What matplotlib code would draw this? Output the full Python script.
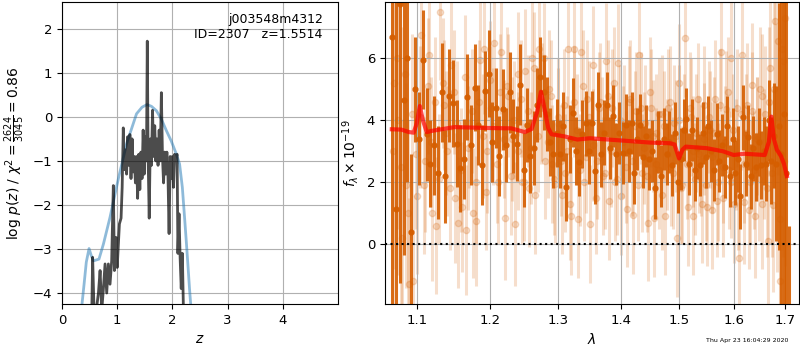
import numpy as np
import matplotlib
matplotlib.use('Agg')
import matplotlib.pyplot as plt
from matplotlib.ticker import FixedLocator, FixedFormatter, NullLocator

# --- redshift probability (left) ---
z_tmpl = [0.35, 0.40, 0.44, 0.49, 0.53, 0.57, 0.62, 0.67, 0.75, 0.87, 1.02, 1.17,
          1.35, 1.45, 1.54, 1.62, 1.71, 1.80, 1.89, 1.98, 2.07, 2.13, 2.18, 2.22,
          2.25, 2.28, 2.31, 2.34]
lnp_tmpl = [-4.4, -3.8, -3.3, -2.99, -3.15, -3.27, -3.25, -3.23, -2.89, -2.28, -1.41, -0.61,
            0.07, 0.22, 0.28, 0.24, 0.14, -0.05, -0.31, -0.55, -0.84, -1.07, -1.6, -2.28,
            -2.8, -3.34, -3.9, -4.4]

z_grid = [0.54, 0.555, 0.58, 0.62, 0.66, 0.69, 0.72, 0.75, 0.78, 0.81, 0.84, 0.87,
          0.90, 0.93, 0.95, 0.98, 1.00, 1.04, 1.07, 1.09, 1.11, 1.13, 1.15, 1.17,
          1.19, 1.21, 1.23, 1.25, 1.27, 1.29, 1.31, 1.33, 1.35, 1.37, 1.39, 1.41,
          1.43, 1.45, 1.47, 1.49, 1.51, 1.53, 1.545, 1.56, 1.58, 1.60, 1.62, 1.64,
          1.66, 1.68, 1.70, 1.72, 1.74, 1.76, 1.78, 1.80, 1.82, 1.84, 1.86, 1.88,
          1.90, 1.92, 1.94, 1.96, 1.98, 2.00, 2.02, 2.04, 2.06, 2.085, 2.10, 2.12,
          2.14, 2.16, 2.18, 2.20]
lnp_grid = [-4.4, -3.19, -4.4, -4.4, -4.0, -3.49, -4.4, -3.9, -3.34, -4.0, -3.34, -3.8,
            -3.27, -1.56, -3.49, -2.74, -3.42, -2.43, -2.3, -1.6, -0.25, -1.2, -0.75, -1.3,
            -0.45, -1.1, -0.4, -1.4, -0.5, -1.25, -0.9, -1.5, -0.9, -1.85, -0.85, -1.65,
            -0.8, -1.4, -0.3, -1.3, -0.45, -1.0, 1.72, -0.9, -2.3, -0.5, -1.1, 0.15,
            -0.9, -0.2, -1.0, -0.5, -1.1, -0.3, -1.0, 0.55, -0.9, -1.5, -0.8, -1.3,
            -0.8, -1.35, -2.65, -0.9, -1.4, -0.9, -1.6, -0.85, -0.95, -0.85, -3.1, -2.2,
            -3.2, -3.9, -3.1, -4.4]

# --- 1D spectrum (right) ---
# beam A (dark)
wave_a0, wave_a_step = 1.068, 0.005
flux_a = [6.7, 1.15, 7.75, 4.65, 6.0, 0.4, 5.0, 3.4, 5.95, 3.55, 2.6, 3.2,
          2.3, 4.9, 2.2, 4.8, 4.55, 3.25, 2.45, 2.75, 4.75, 3.2, 5.05, 3.85,
          2.55, 4.95, 5.5, 3.3, 4.4, 2.85, 4.35, 3.2, 4.9, 3.5, 3.25, 5.15,
          2.4, 3.85, 2.85, 3.1, 4.5, 5.4, 4.9, 4.2, 3.3, 2.9, 3.6, 2.9,
          3.8, 1.85, 3.4, 4.25, 3.0, 2.65, 3.55, 3.9, 3.0, 3.9, 2.35, 4.5,
          2.9, 3.6, 4.5, 3.1, 4.15, 2.9, 3.6, 2.95, 3.85, 3.0, 3.9, 2.3,
          3.4, 3.85, 2.8, 3.5, 2.75, 3.0, 1.8, 3.3, 2.2, 3.4, 2.9, 3.3,
          2.55, 3.6, 2.0, 2.75, 3.7, 4.05, 2.6, 3.7, 2.4, 3.1, 2.55, 3.6,
          2.8, 3.8, 3.0, 2.4, 3.55, 2.7, 3.2, 2.5, 3.8, 2.2, 3.4, 2.3,
          2.75, 1.55, 4.1, 2.6, 3.45, 2.2, 3.1, 2.5, 3.3, 2.55, 3.0, 2.6,
          4.0, 2.7, 3.5, 2.6, 3.8, 2.9, 4.2, 2.3, -3.0]
err_a = [9, 9, 9, 5, 4, 2.5, 1.7, 1.5, 1.6, 1.5, 1.4, 1.6,
         1.5, 1.6, 1.5, 1.5, 1.4, 1.4, 1.4, 1.3, 1.4, 1.3, 1.4, 1.3,
         1.3, 1.3, 1.4, 1.3, 1.3, 1.3, 1.3, 1.2, 1.3, 1.2, 1.2, 1.3,
         1.2, 1.2, 1.2, 1.2, 1.2, 1.3, 1.2, 1.2, 1.1, 1.1, 1.1, 1.1,
         1.1, 1.1, 1.1, 1.1, 1.1, 1.1, 1.1, 1.05, 1.05, 1.05, 1.05, 1.05,
         1.05, 1.05, 1.05, 1.0, 1.0, 1.0, 1.0, 1.0, 1.0, 1.0, 1.0, 1.0,
         1.0, 1.0, 1.0, 1.0, 1.0, 1.0, 1.0, 1.0, 1.0, 1.0, 1.0, 1.0,
         1.0, 1.0, 1.0, 1.0, 1.0, 1.0, 1.0, 1.0, 1.0, 1.0, 1.0, 1.0,
         1.0, 1.0, 1.0, 1.0, 1.0, 1.0, 1.0, 1.0, 1.0, 1.0, 1.0, 1.05,
         1.05, 1.05, 1.05, 1.05, 1.05, 1.05, 1.05, 1.1, 1.1, 1.1, 1.1, 1.2,
         1.3, 1.4, 1.7, 2.5, 4, 6, 8, 9, 3.6]

# beam B (light)
wave_b0, wave_b_step = 1.0705, 0.005
flux_b = [5.2, 4.0, 0.2, 1.9, -1.3, -1.2, 1.55, 6.75, 2.7, 6.1, 1.0, 0.6,
          7.5, 4.5, 3.0, 5.8, 1.5, 0.7, 1.2, 0.45, 3.9, 1.0, 0.75, 5.95,
          6.3, 3.0, 4.4, 6.5, 2.0, 6.2, 0.85, 4.8, 3.4, 0.65, 5.5, 2.0,
          5.6, 1.8, 6.0, 1.6, 6.3, 4.6, 2.7, 5.0, 2.6, 1.95, 4.1, 1.6,
          2.3, 6.3, 0.9, 6.3, 0.8, 6.2, 2.0, 4.7, 0.65, 5.8, 2.7, 4.6,
          2.2, 5.9, 1.4, 4.4, 2.0, 5.85, 1.55, 3.9, 1.15, 4.7, 0.95, 4.3,
          6.1, 2.3, 3.9, 0.7, 4.4, 0.85, 3.6, 2.4, 4.2, 0.9, 4.4, 2.5,
          3.9, 0.2, 5.2, 1.9, 6.65, 1.2, 4.1, 0.9, 3.6, 2.9, 1.3, 4.5,
          1.2, 3.7, 1.1, 4.7, 2.0, 6.2, 1.5, 4.35, 2.4, 6.0, 1.3, 4.4,
          -0.45, 6.1, 1.35, 4.5, 2.0, 5.15, 0.9, 3.4, 5.0, 1.3, 4.2, 0.1,
          5.7, 1.25, 7.2, 6.55, -1.2, 5.9, 7.3]
err_b = [6, 5, 3.8, 3.3, 2.8, 2.8, 2.5, 2.3, 2.3, 2.2, 2.2, 2.2,
         2.2, 2.1, 2.1, 2.1, 2.1, 2.1, 2.1, 2.1, 2.1, 2.1, 2.1, 2.1,
         2.1, 2.0, 2.0, 2.0, 2.0, 2.0, 2.0, 2.0, 2.0, 2.0, 2.0, 2.0,
         2.0, 1.9, 1.9, 1.9, 1.9, 1.9, 1.9, 1.9, 1.9, 1.9, 1.9, 1.9,
         1.9, 1.9, 1.9, 1.9, 1.9, 1.9, 1.9, 1.9, 1.9, 1.9, 1.9, 1.9,
         1.9, 1.9, 1.9, 1.9, 1.9, 1.9, 1.9, 1.9, 1.9, 1.9, 1.9, 1.9,
         1.9, 1.9, 1.9, 1.9, 1.9, 1.9, 1.9, 1.9, 1.9, 1.9, 1.9, 1.9,
         1.9, 1.9, 1.9, 1.9, 1.9, 1.9, 1.9, 1.9, 1.9, 1.9, 1.9, 1.9,
         1.9, 1.9, 1.9, 1.9, 1.9, 1.9, 1.9, 1.9, 1.9, 1.9, 1.9, 1.9,
         1.9, 1.9, 2.0, 2.0, 2.0, 2.0, 2.0, 2.0, 2.0, 2.1, 2.2, 2.3,
         2.5, 2.8, 3.3, 4.3, 5.3, 6.3, 8]

# beam C (light)
wave_c0, wave_c_step = 1.0692, 0.005
flux_c = [3.0, 6.0, 2.5, 5.5, 1.0, 4.2, 2.9, 4.1, 1.9, 5.1, 3.3, 4.6,
          2.1, 5.2, 3.6, 1.8, 4.9, 3.9, 2.4, 5.4, 3.1, 4.3, 2.0, 4.6,
          3.5, 1.7, 5.3, 3.8, 2.6, 4.9, 3.4, 5.1, 2.2, 4.0, 3.0, 4.7,
          2.0, 4.3, 3.1, 5.7, 3.5, 4.4, 6.0, 3.3, 4.8, 2.1, 3.9, 2.7,
          4.5, 3.0, 1.3, 4.6, 3.7, 2.4, 5.1, 2.8, 4.1, 3.2, 1.5, 4.4,
          3.6, 2.3, 4.8, 3.0, 5.2, 2.1, 4.0, 3.3, 2.5, 4.6, 2.7, 3.8,
          1.9, 4.4, 3.1, 2.2, 4.9, 3.5, 2.6, 4.2, 1.6, 3.8, 2.9, 4.6,
          2.3, 3.5, 4.0, 1.8, 3.7, 2.6, 4.4, 3.0, 2.1, 4.7, 2.7, 3.4,
          1.9, 4.1, 2.8, 3.6, 1.4, 4.5, 2.5, 3.3, 4.9, 2.0, 3.7, 2.9,
          1.6, 4.2, 2.6, 3.6, 1.1, 4.3, 2.4, 3.5, 2.1, 4.8, 2.9, 1.8,
          4.6, 2.3, 5.0, 3.1, 0.8, 6.3, 2.7]
err_c = [7, 5.5, 4.5, 3.5, 3, 2.6, 2.4, 2.3, 2.2, 2.2, 2.1, 2.1,
         2.1, 2.1, 2.0, 2.0, 2.0, 2.0, 2.0, 2.0, 2.0, 2.0, 2.0, 2.0,
         2.0, 1.9, 1.9, 1.9, 1.9, 1.9, 1.9, 1.9, 1.9, 1.9, 1.9, 1.9,
         1.9, 1.8, 1.8, 1.8, 1.8, 1.8, 1.8, 1.8, 1.8, 1.8, 1.8, 1.8,
         1.8, 1.8, 1.8, 1.8, 1.8, 1.8, 1.8, 1.8, 1.8, 1.8, 1.8, 1.8,
         1.8, 1.8, 1.8, 1.8, 1.8, 1.8, 1.8, 1.8, 1.8, 1.8, 1.8, 1.8,
         1.8, 1.8, 1.8, 1.8, 1.8, 1.8, 1.8, 1.8, 1.8, 1.8, 1.8, 1.8,
         1.8, 1.8, 1.8, 1.8, 1.8, 1.8, 1.8, 1.8, 1.8, 1.8, 1.8, 1.8,
         1.8, 1.8, 1.8, 1.8, 1.8, 1.8, 1.8, 1.8, 1.8, 1.8, 1.8, 1.8,
         1.8, 1.8, 1.9, 1.9, 1.9, 1.9, 1.9, 1.9, 2.0, 2.0, 2.1, 2.2,
         2.4, 2.7, 3.2, 4.0, 5.0, 6.5, 8]

wave_model = [1.068, 1.08, 1.09, 1.096, 1.100, 1.104, 1.108, 1.113, 1.12, 1.15,
              1.20, 1.23, 1.25, 1.26, 1.268, 1.274, 1.280, 1.285, 1.29, 1.31,
              1.33, 1.35, 1.40, 1.45, 1.484, 1.492, 1.50, 1.506, 1.512, 1.55,
              1.58, 1.60, 1.62, 1.66, 1.668, 1.673, 1.678, 1.684, 1.692, 1.698, 1.704]
flux_model = [3.71, 3.7, 3.62, 3.6, 3.9, 4.46, 4.0, 3.62, 3.66, 3.78,
              3.75, 3.74, 3.62, 3.72, 4.25, 4.92, 4.3, 3.75, 3.55, 3.48,
              3.38, 3.42, 3.35, 3.28, 3.26, 3.22, 2.77, 3.05, 3.15, 3.1,
              3.0, 2.88, 2.92, 2.88, 3.3, 4.12, 3.4, 3.05, 2.85, 2.6, 2.2]

wave_ticks = [1.1, 1.2, 1.3, 1.4, 1.5, 1.6, 1.7]

wave_a = wave_a0 + wave_a_step * np.arange(len(flux_a))
wave_b = wave_b0 + wave_b_step * np.arange(len(flux_b))
wave_c = wave_c0 + wave_c_step * np.arange(len(flux_c))
grism_color = (0.835, 0.369, 0.0)

fig = plt.figure(figsize=(8, 3.5), dpi=100)
ax1 = fig.add_axes([0.0775, 0.1314, 0.345, 0.863])
ax2 = fig.add_axes([0.481, 0.1314, 0.518, 0.863])

# left: p(z)
ax1.plot(z_tmpl, lnp_tmpl, color='tab:blue', alpha=0.5, lw=2)
ax1.plot(z_grid, lnp_grid, color='k', alpha=0.7, lw=2)
ax1.set_xlim(0, 5.0)
ax1.set_ylim(-4.25, 2.61)
ax1.set_xticks([0, 1, 2, 3, 4])
ax1.set_yticks([-4, -3, -2, -1, 0, 1, 2])
ax1.grid(True)
ax1.tick_params(labelsize=9.5)
ax1.set_xlabel('$z$', fontsize=10)
ax1.set_ylabel(r'$\log\,p(z)$ / $\chi^2=\frac{2624}{3045}=0.86$', fontsize=10)
ax1.text(0.945, 0.965, 'j003548m4312\nID=2307   z=1.5514', transform=ax1.transAxes,
         ha='right', va='top', fontsize=9)

# right: spectrum
for w, f, e in [(wave_b, flux_b, err_b), (wave_c, flux_c, err_c)]:
    ax2.errorbar(w, f, yerr=e, color=grism_color, alpha=0.2, marker='o',
                 ms=4.5, linestyle='None', elinewidth=2.2, zorder=1)
ax2.errorbar(wave_a, flux_a, yerr=err_a, color=grism_color, alpha=0.9, marker='o',
             ms=3.5, linestyle='None', elinewidth=2.2, zorder=2)
ax2.plot(wave_model, flux_model, color='r', alpha=0.7, lw=3, zorder=3)
ax2.axhline(0, color='k', linestyle=':', lw=1.5, zorder=4)
ax2.set_xscale('log')
ax2.set_xlim(1.0592, 1.729)
ax2.set_ylim(-1.93, 7.82)
ax2.xaxis.set_major_locator(FixedLocator(wave_ticks))
ax2.xaxis.set_major_formatter(FixedFormatter([f'{w:.1f}' for w in wave_ticks]))
ax2.xaxis.set_minor_locator(NullLocator())
ax2.set_yticks([0, 2, 4, 6])
ax2.grid(True)
ax2.tick_params(labelsize=9.5)
ax2.set_xlabel(r'$\lambda$', fontsize=10)
ax2.set_ylabel(r'$f_\lambda\times10^{-19}$', fontsize=10)

fig.text(0.985, 0.02, 'Thu Apr 23 16:04:29 2020', ha='right', va='bottom', fontsize=4.5)

fig.savefig('out.png', dpi=100)
